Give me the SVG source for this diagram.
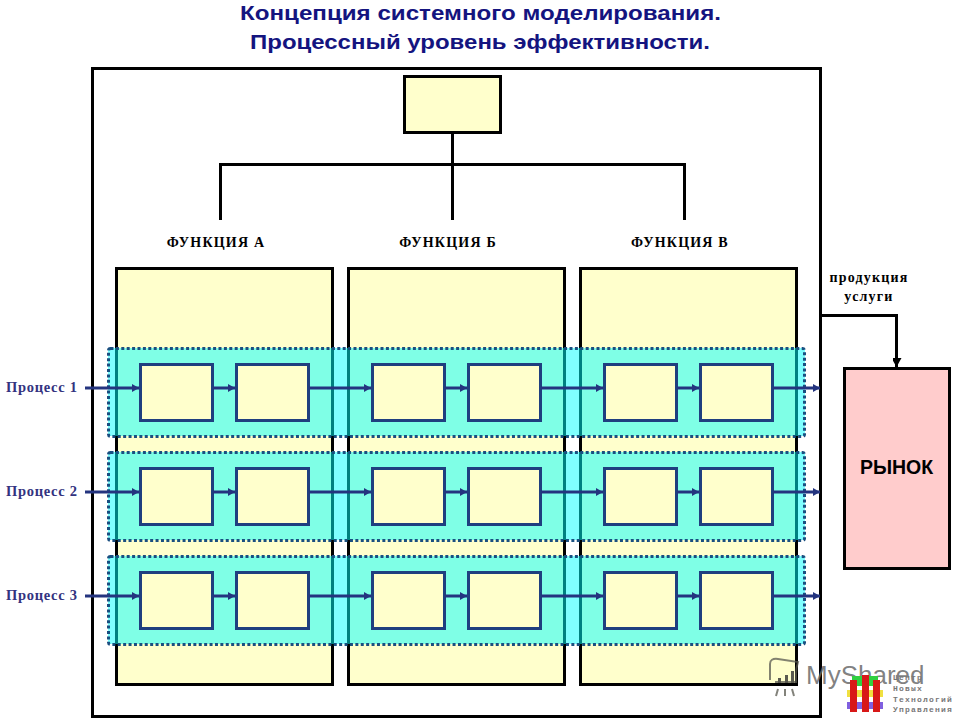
<svg xmlns="http://www.w3.org/2000/svg" xmlns:xlink="http://www.w3.org/1999/xlink" width="960" height="720" viewBox="0 0 960 720">
<style>
.title{font:bold 20.500px "Liberation Sans",Arial,sans-serif;fill:#14147f}
.fn{font:bold 14px "Liberation Serif","Times New Roman",serif;letter-spacing:1.200px;fill:#000;text-anchor:middle}
.pr{font:bold 14.500px "Liberation Serif","Times New Roman",serif;letter-spacing:.7px;fill:#33337f}
.col{fill:#ffffcc;stroke:#000;stroke-width:3}
.band{fill:#00ffff;fill-opacity:.5;stroke:none}
.bandb{fill:none;stroke:#1a4f80;stroke-width:3;stroke-dasharray:3 2.4}
.box{fill:#ffffcc;stroke:#1f3f7f;stroke-width:3}
.bl{fill:none;stroke:#000;stroke-width:3}
.fl{fill:none;stroke:#24347f;stroke-width:3}
</style>
<defs>
<marker id="ah" markerUnits="userSpaceOnUse" markerWidth="8" markerHeight="10" refX="7" refY="5" orient="auto"><path d="M0 1L7 5L0 9z" fill="#24347f"/></marker>
<marker id="ak" markerUnits="userSpaceOnUse" markerWidth="10" markerHeight="9" refX="9" refY="5" orient="auto"><path d="M0 0L9 5L0 10z" fill="#000"/></marker>
<g id="row">
<rect class="box" x="140" y="0" width="72" height="56"/><rect class="box" x="236" y="0" width="72" height="56"/>
<rect class="box" x="372" y="0" width="72" height="56"/><rect class="box" x="468" y="0" width="72" height="56"/>
<rect class="box" x="604" y="0" width="72" height="56"/><rect class="box" x="700" y="0" width="72" height="56"/>
</g>
<g id="flow">
<path class="fl" d="M85 24H139" marker-end="url(#ah)"/><path class="fl" d="M213 24H235" marker-end="url(#ah)"/>
<path class="fl" d="M309 24H371" marker-end="url(#ah)"/><path class="fl" d="M445 24H467" marker-end="url(#ah)"/>
<path class="fl" d="M541 24H603" marker-end="url(#ah)"/><path class="fl" d="M677 24H699" marker-end="url(#ah)"/>
<path class="fl" d="M773 24H820" marker-end="url(#ah)"/>
</g>
</defs>
<rect width="960" height="720" fill="#fff"/>
<text class="title" x="240" y="19.500" textLength="481" lengthAdjust="spacingAndGlyphs">Концепция системного моделирования.</text>
<text class="title" x="250" y="48.500" textLength="460" lengthAdjust="spacingAndGlyphs">Процессный уровень эффективности.</text>
<g id="frame"><rect x="92.500" y="68.500" width="728" height="648" fill="none" stroke="#000" stroke-width="3"/></g>
<g id="top"><rect x="404.500" y="76.500" width="96" height="56" class="col"/></g>
<g id="func-a"><rect class="col" x="116.500" y="268.500" width="216" height="416"/><text class="fn" x="216" y="247">ФУНКЦИЯ А</text></g>
<g id="func-b"><rect class="col" x="348.500" y="268.500" width="216" height="416"/><text class="fn" x="448" y="247">ФУНКЦИЯ Б</text></g>
<g id="func-c"><rect class="col" x="580.500" y="268.500" width="216" height="416"/><text class="fn" x="680" y="247">ФУНКЦИЯ В</text></g>
<g id="bands">
<rect class="band" x="108" y="348" width="697" height="88"/><rect class="bandb" x="108.500" y="348.500" width="696" height="88" rx="2"/>
<rect class="band" x="108" y="452" width="697" height="88"/><rect class="bandb" x="108.500" y="452.500" width="696" height="88" rx="2"/>
<rect class="band" x="108" y="556" width="697" height="88"/><rect class="bandb" x="108.500" y="556.500" width="696" height="88" rx="2"/>
</g>
<g id="nodes-1"><use xlink:href="#row" href="#row" x="0.500" y="364.500"/></g>
<g id="nodes-2"><use xlink:href="#row" href="#row" x="0.500" y="468.500"/></g>
<g id="nodes-3"><use xlink:href="#row" href="#row" x="0.500" y="572.500"/></g>
<g id="connectors">
<path class="bl" d="M452.500 132V220M220.500 220V164.500H684.500V220"/>
<path class="bl" d="M821 315.500H896.500V367" marker-end="url(#ak)"/>
<use xlink:href="#flow" href="#flow" y="364"/><use xlink:href="#flow" href="#flow" y="468"/><use xlink:href="#flow" href="#flow" y="572"/>
</g>
<g id="labels">
<text class="pr" x="6" y="392">Процесс 1</text><text class="pr" x="6" y="496">Процесс 2</text><text class="pr" x="6" y="600">Процесс 3</text>
<text class="fn" x="869" y="282">продукция</text><text class="fn" x="869" y="301">услуги</text>
</g>
<g id="market"><rect x="844.500" y="368.500" width="105" height="200" fill="#ffcccc" stroke="#000" stroke-width="3"/>
<text x="896.500" y="474" text-anchor="middle" style="font:bold 19.500px 'Liberation Sans',Arial,sans-serif">РЫНОК</text></g>
<g id="watermark">
<g fill="none" stroke="#5a5a50" stroke-width="2" opacity=".75"><path d="M770 680V664Q770 658 778 659L798 662Q796 668 796 674V682H775"/><path d="M778 689L776 696M785 689V696M792 689L794 696"/></g>
<path d="M778 683h3v-5h-3zM785 683h3v-8h-3zM791 683h3v-12h-3z" fill="#5a5a50"/>
<text x="806" y="684" style="font:26px 'Liberation Sans',Arial,sans-serif" fill="#6b6b6b" fill-opacity=".85">MyShared</text>
<rect x="852" y="676" width="26" height="10" fill="#30d040"/><rect x="847" y="690" width="36" height="7" fill="#f0e040"/><rect x="847" y="702" width="36" height="7" fill="#8060e0"/>
<path d="M850 680h7v32h-7zM862 675h7v37h-7zM873 680h7v32h-7z" fill="#d81818"/>
<g style="font:bold 8px 'Liberation Mono',monospace;letter-spacing:1.200px" fill="#777"><text x="893" y="680">Центр</text><text x="893" y="691">Новых</text><text x="893" y="702">Технологий</text><text x="893" y="712">Управления</text></g>
</g>
</svg>
